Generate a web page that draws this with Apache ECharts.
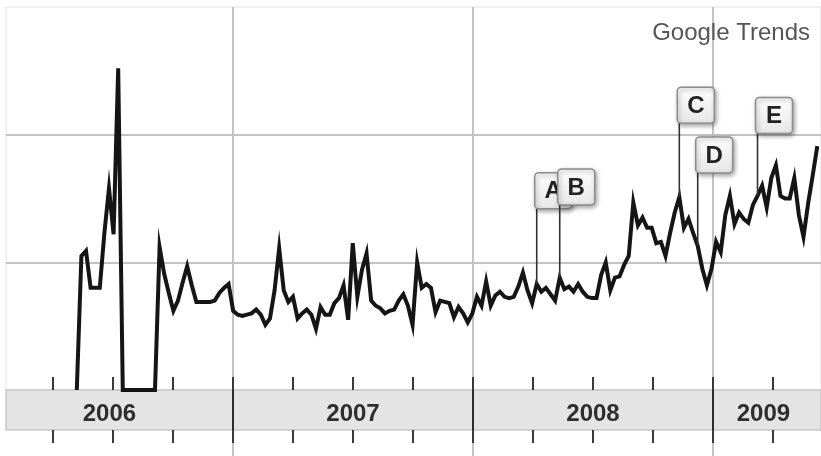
<!DOCTYPE html>
<html><head><meta charset="utf-8">
<script src="https://cdn.jsdelivr.net/npm/echarts@6/dist/echarts.min.js"></script>
<style>html,body{margin:0;padding:0;background:#fff}#c{width:821px;height:456px}</style>
</head><body><div id="c"></div>
<script>
// ---- data ----
const startYear = 2006.349;           // date (fractional year) of the first weekly point
const weekValues = [
  0, 105, 109, 80, 80, 80, 123, 158, 122, 252,
  0, 0, 0, 0, 0, 0, 0, 0,
  112, 91, 76, 62, 70, 84, 97, 82, 69, 69, 69, 69,
  70, 76, 80, 83, 62, 59, 58, 59, 60, 63,
  59, 51, 56, 78, 111, 78, 69, 73, 56, 60,
  63, 59, 48, 65, 59, 59, 68, 72, 82, 55,
  115, 73, 94, 107, 70, 66, 64, 60, 62, 63,
  70, 75, 66, 51, 100, 80, 83, 80, 61, 70,
  69, 68, 57, 65, 60, 53, 60, 73, 66, 85,
  66, 74, 77, 73, 72, 73, 81, 92, 78, 68,
  83, 77, 80, 75, 70, 88, 79, 81, 77, 83,
  77, 73, 72, 72, 90, 100, 78, 88, 89, 98,
  105, 147, 129, 135, 127, 127, 115, 116, 105, 123,
  139, 151, 127, 134, 123, 113, 95, 82, 95, 116,
  108, 137, 152, 130, 139, 134, 131, 145, 152, 160,
  143, 166, 176, 152, 150, 150, 166, 137, 120, 146, 168, 191
];
const yearTicks = [2007, 2008, 2009];
const quarterTicks = [2006.25, 2006.5, 2006.75, 2007, 2007.25, 2007.5, 2007.75,
                      2008, 2008.25, 2008.5, 2008.75, 2009, 2009.25];
const yearLabelPos = [2006.485, 2007.5, 2008.5, 2009.21];
const yGridValues = [100, 200];
const flagLabels = ['A', 'B', 'C', 'D', 'E'];
const flagWeeks  = [100, 105, 131, 135, 148];
const flagTops   = [142, 145, 209, 170, 201];
const xMin = 2006.054, xMax = 2009.45;

// ---- build ----
const weekX = i => startYear + i * 7 / 365.25;
const lineData = weekValues.map((v, i) => [weekX(i), v]);
const flagData = flagWeeks.map((w, k) => [weekX(w), weekValues[w], flagTops[k], k]);

const FONT = '"Liberation Sans", Arial, Helvetica, sans-serif';
const lightGrid = { color: '#c3c3c3', width: 2 };
const hiddenLine = { show: false, onZero: false };

const chart = echarts.init(document.getElementById('c'), null, { renderer: 'canvas' });
chart.setOption({
  animation: false,
  backgroundColor: '#fff',
  title: {
    text: 'Google Trends', right: 6, top: 16,
    textStyle: { fontFamily: FONT, fontSize: 24, fontWeight: 'normal', color: '#555' }
  },
  grid: [
    { left: 6, right: 0, top: 7, bottom: 66, show: true, borderColor: '#e2e2e2', borderWidth: 1 },
    { left: 6, right: 0, top: 390, height: 40, show: true, backgroundColor: '#e4e4e4', borderColor: '#c8c8c8', borderWidth: 1.5 },
    { left: 6, right: 0, top: 430, bottom: 0 }
  ],
  xAxis: [
    { gridIndex: 0, type: 'value', min: xMin, max: xMax,
      axisLine: hiddenLine, axisLabel: { show: false },
      axisTick: { show: false, customValues: yearTicks },
      splitLine: { show: true, lineStyle: lightGrid } },
    { gridIndex: 1, type: 'value', position: 'top', min: xMin, max: xMax,
      axisLine: hiddenLine, axisLabel: { show: false }, splitLine: { show: false },
      axisTick: { show: true, length: 13, customValues: quarterTicks, lineStyle: { color: '#3a3a3a', width: 2 } } },
    { gridIndex: 1, type: 'value', position: 'bottom', min: xMin, max: xMax,
      axisLine: hiddenLine, splitLine: { show: false },
      axisTick: { show: true, length: 13, customValues: quarterTicks, lineStyle: { color: '#3a3a3a', width: 2 } },
      axisLabel: { show: true, inside: true, margin: 4, customValues: yearLabelPos,
        formatter: v => String(Math.floor(v)),
        fontFamily: FONT, fontSize: 24, fontWeight: 'bold', color: '#2e2e2e' } },
    { gridIndex: 1, type: 'value', position: 'bottom', min: xMin, max: xMax,
      axisLine: hiddenLine, axisLabel: { show: false },
      axisTick: { show: false, customValues: yearTicks },
      splitLine: { show: true, lineStyle: { color: '#2e2e2e', width: 2 } } },
    { gridIndex: 2, type: 'value', min: xMin, max: xMax,
      axisLine: hiddenLine, axisLabel: { show: false },
      axisTick: { show: false, customValues: yearTicks },
      splitLine: { show: true, lineStyle: lightGrid } }
  ],
  yAxis: [
    { gridIndex: 0, type: 'value', min: 0, max: 300,
      axisLine: hiddenLine, axisLabel: { show: false },
      axisTick: { show: false, customValues: yGridValues },
      splitLine: { show: true, lineStyle: lightGrid } },
    { gridIndex: 1, type: 'value', show: false, min: 0, max: 1, splitLine: { show: false } },
    { gridIndex: 2, type: 'value', show: false, min: 0, max: 1, splitLine: { show: false } }
  ],
  series: [
    { type: 'line', xAxisIndex: 0, yAxisIndex: 0, data: lineData, symbol: 'none', clip: false,
      lineStyle: { color: '#151515', width: 4, join: 'miter' }, z: 3 },
    { type: 'custom', xAxisIndex: 0, yAxisIndex: 0, data: flagData, clip: false, z: 5,
      encode: { x: 0, y: 1 },
      renderItem: (params, api) => {
        const p0 = api.coord([api.value(0), api.value(1)]);
        const p1 = api.coord([api.value(0), api.value(2)]);
        const k = api.value(3);
        const bw = 37, bh = 36, bx = p1[0] - 2, by = p1[1] - bh;
        return { type: 'group', children: [
          { type: 'line', shape: { x1: p0[0], y1: p0[1], x2: p1[0], y2: p1[1] },
            style: { stroke: '#333', lineWidth: 1.6 } },
          { type: 'rect', shape: { x: bx, y: by, width: bw, height: bh, r: 4 },
            style: { fill: new echarts.graphic.LinearGradient(0, 0, 0, 1, [
                       { offset: 0, color: '#ffffff' }, { offset: 1, color: '#e6e6e6' }]),
                     stroke: '#8c8c8c', lineWidth: 1.5,
                     shadowBlur: 4, shadowOffsetX: 1.5, shadowOffsetY: 2, shadowColor: 'rgba(0,0,0,0.35)' } },
          { type: 'text', style: { text: flagLabels[k], x: bx + bw / 2, y: by + bh / 2 + 1,
            align: 'center', verticalAlign: 'middle',
            font: 'bold 24px ' + FONT, fill: '#222' } }
        ] };
      } }
  ]
});
</script></body></html>
